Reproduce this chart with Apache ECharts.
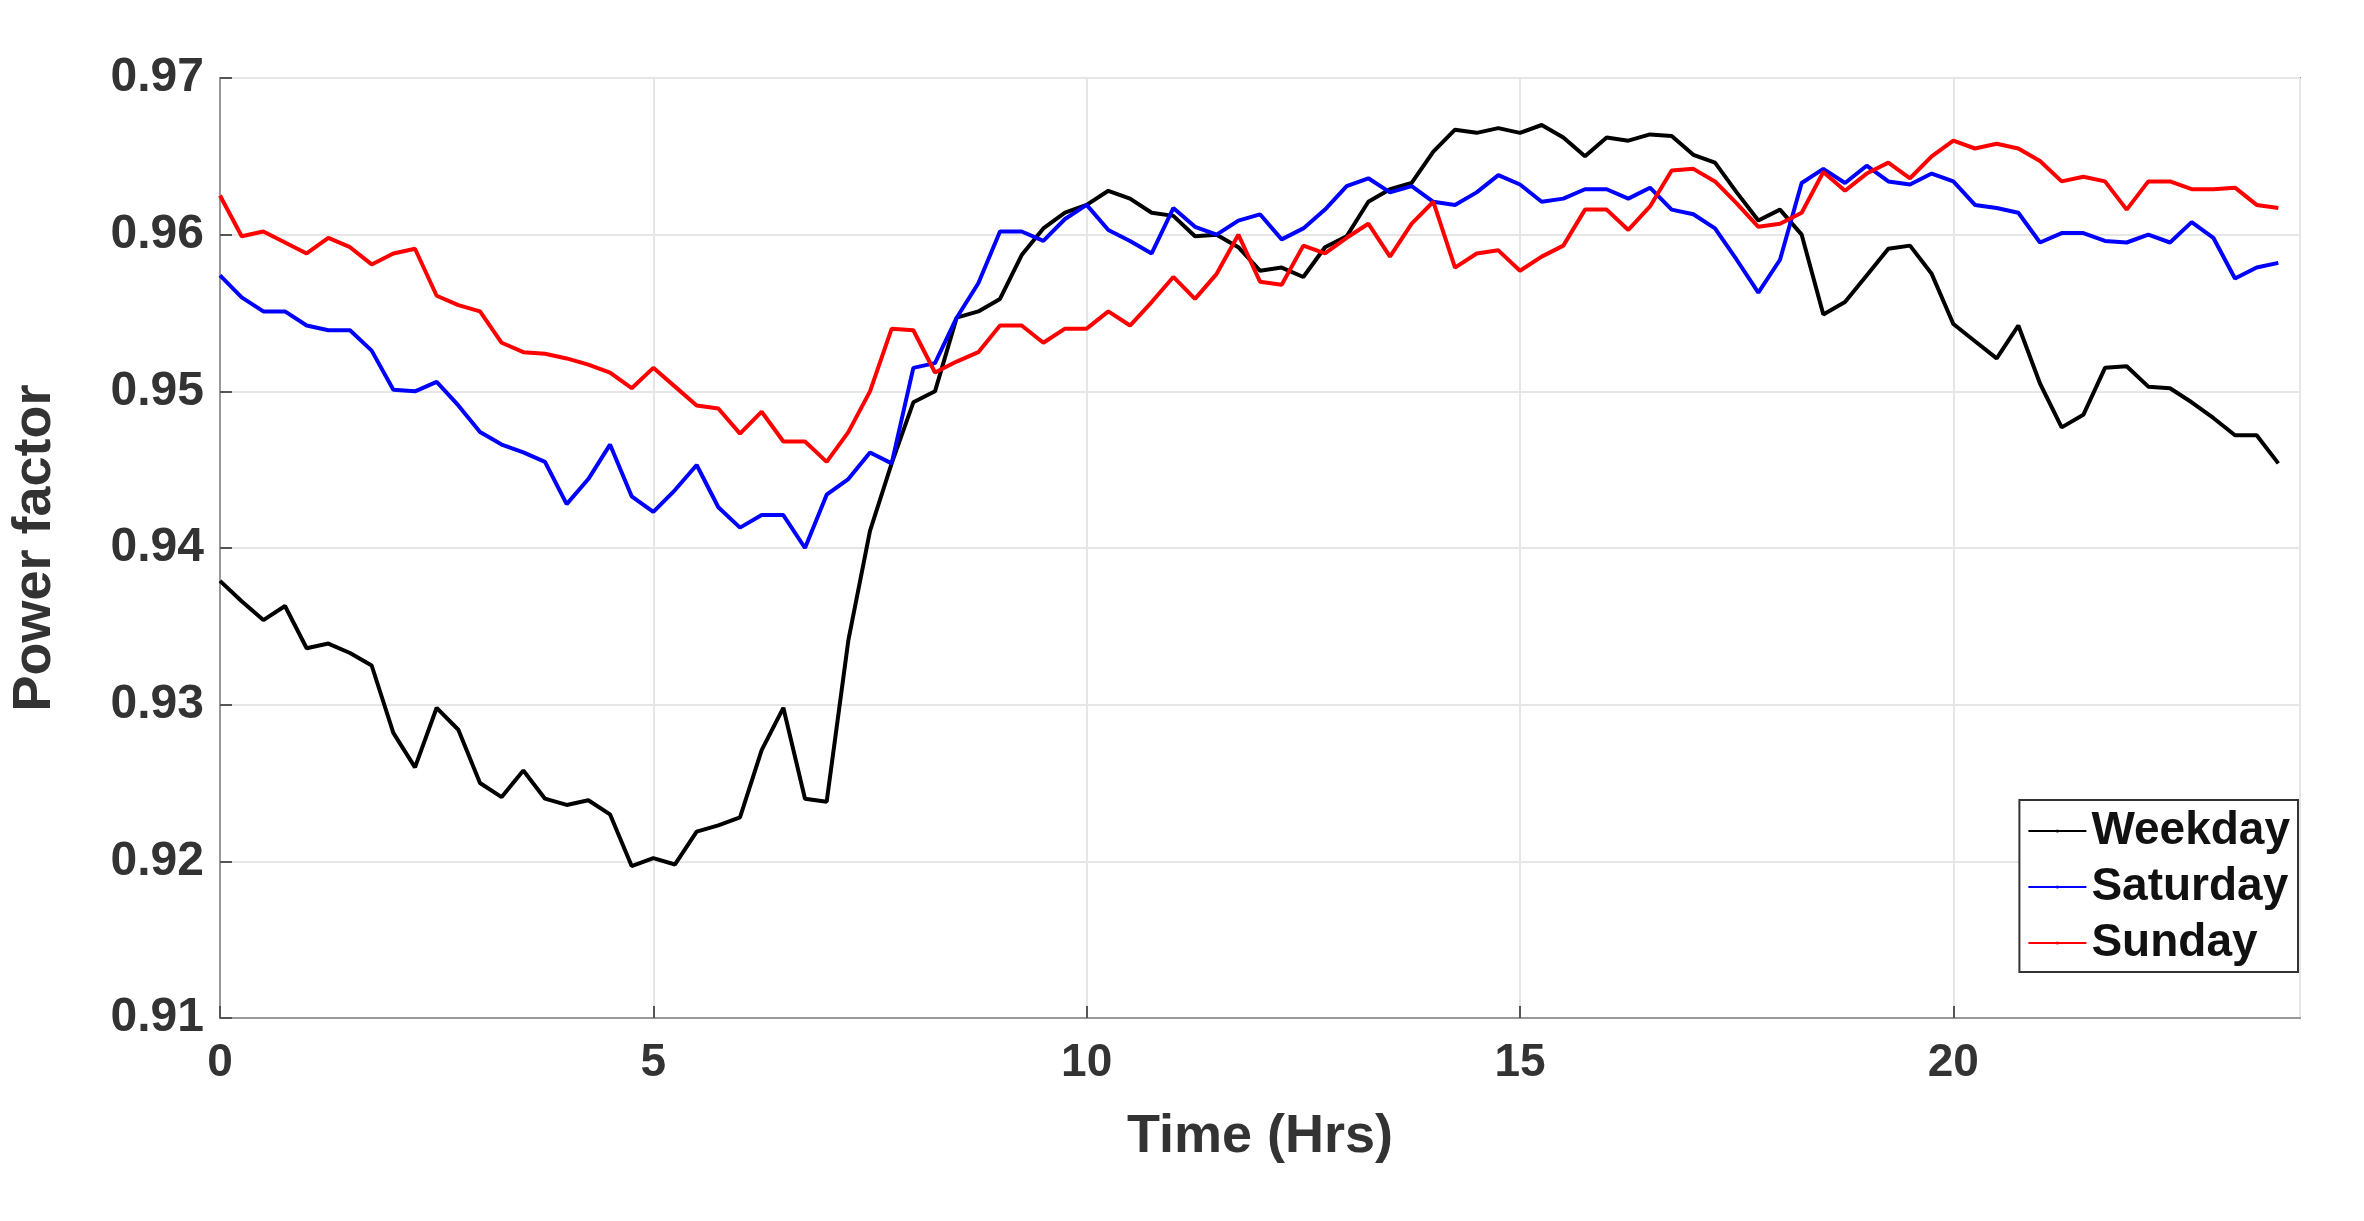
<!DOCTYPE html>
<html>
<head>
<meta charset="utf-8">
<script src="https://cdn.jsdelivr.net/npm/echarts@6/dist/echarts.min.js"></script>
<style>html,body{margin:0;padding:0;background:#fff}#chart{width:2364px;height:1221px}</style>
</head>
<body>
<div id="chart"></div>
<script>
// 15-minute samples, 0 .. 23.75 h
var weekday = [
	0.9379,0.9366,0.9354,0.9363,0.9336,0.9339,0.9333,0.9325,0.9282,0.9260,0.9298,0.9284,0.9250,0.9241,0.9258,0.9240,0.9236,0.9239,0.9230,0.9197,0.9202,0.9198,0.9219,0.9223,
	0.9228,0.9271,0.9298,0.9240,0.9238,0.9341,0.9411,0.9454,0.9493,0.9500,0.9547,0.9551,0.9559,0.9587,0.9604,0.9614,0.9619,0.9628,0.9623,0.9614,0.9612,0.9599,0.9600,0.9592,
	0.9577,0.9579,0.9573,0.9592,0.9599,0.9621,0.9629,0.9633,0.9653,0.9667,0.9665,0.9668,0.9665,0.9670,0.9662,0.9650,0.9662,0.9660,0.9664,0.9663,0.9651,0.9646,0.9627,0.9609,
	0.9616,0.9600,0.9549,0.9557,0.9574,0.9591,0.9593,0.9575,0.9543,0.9532,0.9521,0.9542,0.9505,0.9477,0.9485,0.9515,0.9516,0.9503,0.9502,0.9493,0.9483,0.9472,0.9472,0.9454
];
var saturday = [
	0.9574,0.9560,0.9551,0.9551,0.9542,0.9539,0.9539,0.9526,0.9501,0.9500,0.9506,0.9491,0.9474,0.9466,0.9461,0.9455,0.9428,0.9444,0.9466,0.9433,0.9423,0.9437,0.9453,0.9426,
	0.9413,0.9421,0.9421,0.9400,0.9434,0.9444,0.9461,0.9454,0.9515,0.9518,0.9547,0.9569,0.9602,0.9602,0.9596,0.9610,0.9619,0.9603,0.9596,0.9588,0.9617,0.9605,0.9600,0.9609,
	0.9613,0.9597,0.9604,0.9616,0.9631,0.9636,0.9627,0.9631,0.9621,0.9619,0.9627,0.9638,0.9632,0.9621,0.9623,0.9629,0.9629,0.9623,0.9630,0.9616,0.9613,0.9604,0.9584,0.9563,
	0.9584,0.9633,0.9642,0.9633,0.9644,0.9634,0.9632,0.9639,0.9634,0.9619,0.9617,0.9614,0.9595,0.9601,0.9601,0.9596,0.9595,0.9600,0.9595,0.9608,0.9598,0.9572,0.9579,0.9582
];
var sunday = [
	0.9625,0.9599,0.9602,0.9595,0.9588,0.9598,0.9592,0.9581,0.9588,0.9591,0.9561,0.9555,0.9551,0.9531,0.9525,0.9524,0.9521,0.9517,0.9512,0.9502,0.9515,0.9503,0.9491,0.9489,
	0.9473,0.9487,0.9468,0.9468,0.9455,0.9474,0.9500,0.9540,0.9539,0.9512,0.9519,0.9525,0.9542,0.9542,0.9531,0.9540,0.9540,0.9551,0.9542,0.9557,0.9573,0.9559,0.9575,0.9600,
	0.9570,0.9568,0.9593,0.9588,0.9598,0.9607,0.9586,0.9607,0.9621,0.9579,0.9588,0.9590,0.9577,0.9586,0.9593,0.9616,0.9616,0.9603,0.9618,0.9641,0.9642,0.9634,0.9620,0.9605,
	0.9607,0.9614,0.9640,0.9628,0.9639,0.9646,0.9636,0.9650,0.9660,0.9655,0.9658,0.9655,0.9647,0.9634,0.9637,0.9634,0.9616,0.9634,0.9634,0.9629,0.9629,0.9630,0.9619,0.9617
];
var stepHrs = 0.25;

function pairs(vals) {
	return vals.map(function (v, i) { return [i * stepHrs, v]; });
}

var myChart = echarts.init(document.getElementById("chart"));
var font = "Liberation Sans, Arial, sans-serif";

var option = {
	animation: false,
	backgroundColor: "#fff",
	grid: {
		left: 211, top: 78, width: 2089, height: 940,
		show: true, borderColor: "#999", borderWidth: 2
	},
	legend: {
		orient: "vertical",
		right: 66, top: 800,
		backgroundColor: "#fff",
		borderColor: "#333", borderWidth: 2,
		padding: [8, 8, 6, 8],
		itemGap: 10,
		itemWidth: 58, itemHeight: 4,
		textStyle: { fontFamily: font, fontWeight: "bold", fontSize: 46, color: "#111" },
		data: ["Weekday", "Saturday", "Sunday"]
	},
	xAxis: {
		type: "value", min: 0, max: 24, interval: 5,
		name: "Time (Hrs)", nameLocation: "middle", nameGap: 92,
		nameTextStyle: { fontFamily: font, fontWeight: "bold", fontSize: 54, color: "#333" },
		axisLine: { lineStyle: { color: "#999", width: 2 } },
		axisTick: { inside: true, length: 12, lineStyle: { color: "#555", width: 2 } },
		axisLabel: { fontFamily: font, fontWeight: "bold", fontSize: 46, color: "#333", margin: 22, showMaxLabel: false },
		splitLine: { lineStyle: { color: "#e6e6e6", width: 2 } }
	},
	yAxis: {
		type: "value", min: 0.91, max: 0.97, interval: 0.01,
		name: "Power factor", nameLocation: "middle", nameGap: 158,
		nameTextStyle: { fontFamily: font, fontWeight: "bold", fontSize: 54, color: "#333" },
		axisLine: { show: true, lineStyle: { color: "#999", width: 2 } },
		axisTick: { show: true, inside: true, length: 12, lineStyle: { color: "#555", width: 2 } },
		axisLabel: {
			fontFamily: font, fontWeight: "bold", fontSize: 48, color: "#333", margin: 16,
			formatter: function (v) { return v.toFixed(2); }
		},
		splitLine: { lineStyle: { color: "#e6e6e6", width: 2 } }
	},
	series: [
		{ name: "Weekday", type: "line", symbol: "none", data: pairs(weekday), lineStyle: { color: "#000", width: 4 }, itemStyle: { color: "#000" } },
		{ name: "Saturday", type: "line", symbol: "none", data: pairs(saturday), lineStyle: { color: "#0000ff", width: 4 }, itemStyle: { color: "#0000ff" } },
		{ name: "Sunday", type: "line", symbol: "none", data: pairs(sunday), lineStyle: { color: "#ff0000", width: 4 }, itemStyle: { color: "#ff0000" } }
	]
};

myChart.setOption(option);
</script>
</body>
</html>
